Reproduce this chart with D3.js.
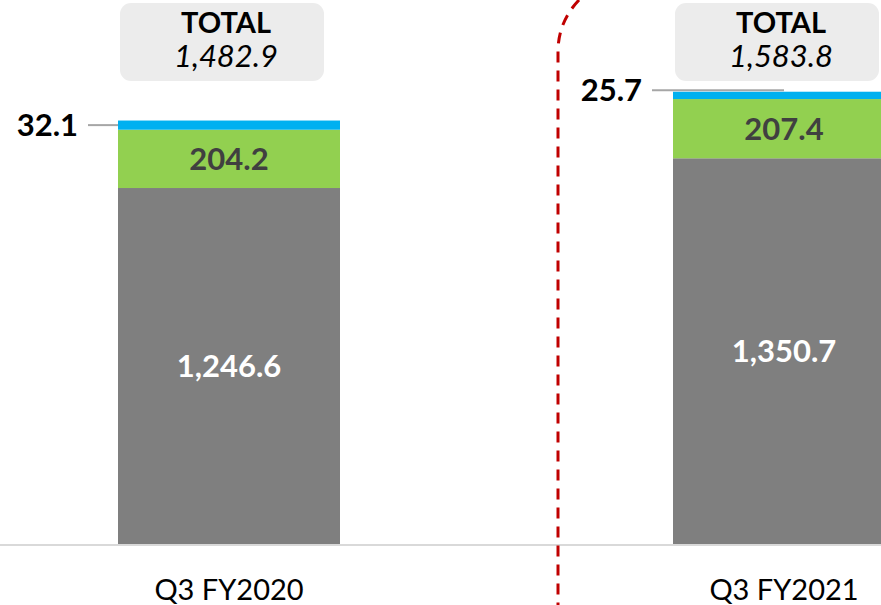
<!DOCTYPE html>
<html>
<head>
<meta charset="utf-8">
<script src="https://cdn.jsdelivr.net/npm/d3@7/dist/d3.min.js"></script>
<style>
  html, body { margin: 0; padding: 0; background: #fff; }
  svg { display: block; font-family: Lato, "Open Sans", sans-serif; }
</style>
</head>
<body>
<svg id="chart" width="881" height="605"></svg>
<script>
// Quarter categories and stacked segment values (bottom to top)
const categories = ["Q3 FY2020", "Q3 FY2021"];
const baseValues = [1246.6, 1350.7];   // gray segment
const midValues = [204.2, 207.4];      // green segment
const topValues = [32.1, 25.7];        // blue segment
const totals = [1482.9, 1583.8];

const W = 881, H = 605;
const baseline = 544;

const svg = d3.select("#chart");

const x = d3.scaleBand()
  .domain(categories)
  .range([118, 895])
  .paddingInner(0.6)
  .paddingOuter(0);

const y = d3.scaleLinear()
  .domain([0, 1905])
  .range([baseline, 0]);

const segKeys = ["base", "mid", "top"];
const colors = { base: "#7f7f7f", mid: "#92d050", top: "#00b0f0" };

const rows = categories.map((c, i) => ({
  cat: c, base: baseValues[i], mid: midValues[i], top: topValues[i], total: totals[i]
}));

const stack = d3.stack().keys(segKeys)(rows);

// bars
stack.forEach(layer => {
  svg.append("g").selectAll("rect")
    .data(layer)
    .join("rect")
    .attr("x", d => x(d.data.cat))
    .attr("width", x.bandwidth())
    .attr("y", d => y(d[1]))
    .attr("height", d => y(d[0]) - y(d[1]))
    .attr("fill", colors[layer.key]);
});

// baseline axis line
svg.append("line")
  .attr("x1", 0).attr("x2", W)
  .attr("y1", baseline + 1).attr("y2", baseline + 1)
  .attr("stroke", "#d9d9d9").attr("stroke-width", 2);

// category labels
svg.append("g").selectAll("text")
  .data(categories)
  .join("text")
  .attr("x", d => x(d) + x.bandwidth() / 2)
  .attr("y", 600)
  .attr("text-anchor", "middle")
  .attr("font-size", 29)
  .attr("fill", "#000")
  .text(d => d);

const fmt = d3.format(",.1f");

// in-bar labels for gray and green segments
const labelStyle = { base: "#ffffff", mid: "#404040" };
["base", "mid"].forEach(key => {
  const layer = stack.find(l => l.key === key);
  svg.append("g").selectAll("text")
    .data(layer)
    .join("text")
    .attr("x", d => x(d.data.cat) + x.bandwidth() / 2)
    .attr("y", d => (y(d[0]) + y(d[1])) / 2)
    .attr("dy", "0.36em")
    .attr("text-anchor", "middle")
    .attr("font-size", 31)
    .attr("font-weight", 700)
    .attr("fill", labelStyle[key])
    .text(d => fmt(d.data[key]));
});

// blue segment labels with leader lines
const topLayer = stack.find(l => l.key === "top");
const leaders = svg.append("g");
topLayer.forEach((d, i) => {
  const yc = (y(d[0]) + y(d[1])) / 2;
  const bx = x(d.data.cat);
  const first = i === 0;
  const x1 = first ? bx - 30 : bx - 21;
  const x2 = first ? bx : bx + x.bandwidth() / 2;
  const ly = first ? yc : y(d[1]) - 1.5;
  leaders.append("line")
    .attr("x1", x1).attr("x2", x2)
    .attr("y1", ly).attr("y2", ly)
    .attr("stroke", "#a6a6a6").attr("stroke-width", 2);
  leaders.append("text")
    .attr("x", x1 - 10)
    .attr("y", ly)
    .attr("dy", "0.36em")
    .attr("text-anchor", "end")
    .attr("font-size", 31)
    .attr("font-weight", 700)
    .attr("fill", "#000")
    .text(fmt(d.data.top));
});

// total callout boxes
const boxes = svg.append("g").selectAll("g")
  .data(rows)
  .join("g");
boxes.append("rect")
  .attr("x", d => x(d.cat) + 2)
  .attr("y", 3)
  .attr("width", 204)
  .attr("height", 78)
  .attr("rx", 11)
  .attr("fill", "#ececec");
boxes.append("text")
  .attr("x", d => x(d.cat) + x.bandwidth() / 2 - 3)
  .attr("y", 33)
  .attr("text-anchor", "middle")
  .attr("font-size", 29)
  .attr("font-weight", 700)
  .attr("fill", "#000")
  .text("TOTAL");
boxes.append("text")
  .attr("x", d => x(d.cat) + x.bandwidth() / 2 - 3)
  .attr("y", 67)
  .attr("text-anchor", "middle")
  .attr("font-size", 31)
  .attr("font-style", "italic")
  .attr("fill", "#000")
  .text(d => fmt(d.total));

// dashed divider between periods
svg.append("path")
  .attr("d", "M579,0 Q558,22 558,52 L558," + H)
  .attr("fill", "none")
  .attr("stroke", "#c00000")
  .attr("stroke-width", 3)
  .attr("stroke-dasharray", "11,8");
</script>
</body>
</html>
